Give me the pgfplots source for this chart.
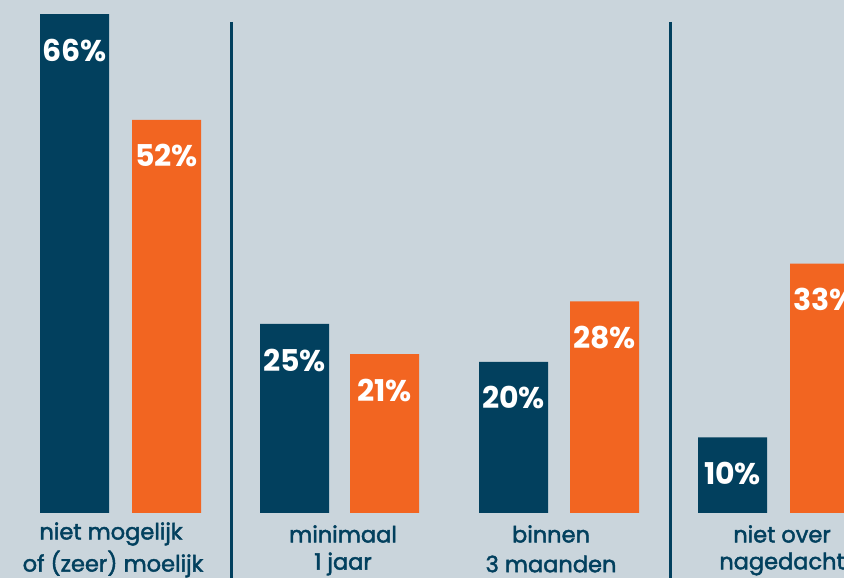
\documentclass[border=0pt]{standalone}
\usepackage{pgfplots}
\pgfplotsset{compat=1.18}
\usepackage{fontspec}
\setmainfont{Poppins}
\newfontfamily\medfont[FakeBold=2]{Poppins}
\definecolor{navy}{HTML}{02405E}
\definecolor{orng}{HTML}{F26521}
\definecolor{bg}{HTML}{CAD5DC}
\begin{document}
\begin{tikzpicture}
\begin{axis}[
  scale only axis, width=844pt, height=578pt,
  xmin=0, xmax=844, ymin=-8.6, ymax=67.86,
  axis lines=none, ticks=none,
  axis background/.style={fill=bg},
  clip=true,
  /pgf/number format/assume math mode=true,
  nodes near coords={\pgfmathprintnumber{\pgfplotspointmeta}\%},
  every node near coord/.style={anchor=center, yshift=-36pt, text=white, font=\fontsize{30}{30}\selectfont\bfseries},
]
\addplot[ybar, bar width=69, bar shift=0pt, fill=navy, draw=none]
  coordinates {(74.5,66) (294.5,25) (513.5,20) (732.5,10)};
\addplot[ybar, bar width=69, bar shift=0pt, fill=orng, draw=none]
  coordinates {(166.5,52) (384.5,21) (604.5,28) (824.5,33)};
\draw[navy, line width=3pt] (axis cs:231,64.95) -- (axis cs:231,-8.6);
\draw[navy, line width=3pt] (axis cs:670,64.95) -- (axis cs:670,-8.6);
\end{axis}
\begin{scope}[every node/.style={text=navy, font=\fontsize{22.5}{30}\selectfont\medfont, align=center, anchor=center}]
\node at (111pt,44pt) {niet mogelijk};
\node at (113pt,14pt) {of (zeer) moelijk};
\node at (343pt,44pt) {minimaal};
\node at (343pt,14pt) {1 jaar};
\node at (551pt,44pt) {binnen};
\node at (551pt,14pt) {3 maanden};
\node at (782pt,44pt) {niet over};
\node at (782pt,14pt) {nagedacht};
\end{scope}
\pgfresetboundingbox
\path[use as bounding box] (0,0) rectangle (844pt,578pt);
\end{tikzpicture}
\end{document}
